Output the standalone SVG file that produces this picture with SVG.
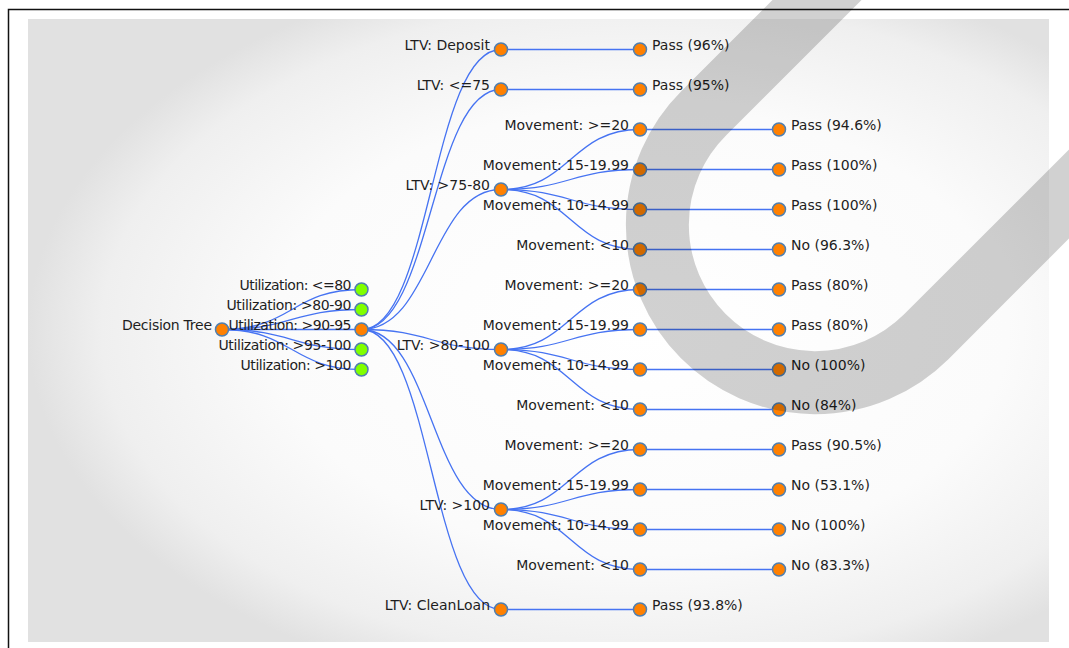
<svg xmlns="http://www.w3.org/2000/svg" width="1069" height="648" viewBox="0 0 1069 648">
<defs>
<radialGradient id="bg" cx="0.6" cy="0.5" r="0.6">
<stop offset="0" stop-color="#ffffff"/>
<stop offset="0.6" stop-color="#fbfbfb"/>
<stop offset="0.88" stop-color="#efefef"/>
<stop offset="1" stop-color="#e1e1e1"/>
</radialGradient>
</defs>
<style>
.link{fill:none;stroke:#4673f2;stroke-width:1.3}
.n{stroke:#4f7fb0;stroke-width:1.5}
.o{fill:#ff8000}
.g{fill:#80ff00}
text{font-family:"DejaVu Sans",Verdana,sans-serif;font-size:14px;fill:#1e1e1e}
.l{text-anchor:end}
.r{text-anchor:start}
</style>
<rect x="0" y="0" width="1069" height="648" fill="#ffffff"/>
<rect x="8.5" y="9.5" width="1080" height="660" fill="#ffffff" stroke="#111" stroke-width="1.5"/>
<rect x="28" y="19" width="1021" height="623" fill="url(#bg)"/>

<g id="links">
<path class="link" d="M222,329.5 C292,329.5 292,289.5 361.5,289.5"/>
<path class="link" d="M222,329.5 C292,329.5 292,309.5 361.5,309.5"/>
<path class="link" d="M222,329.5 C292,329.5 292,329.5 361.5,329.5"/>
<path class="link" d="M222,329.5 C292,329.5 292,349.5 361.5,349.5"/>
<path class="link" d="M222,329.5 C292,329.5 292,369.5 361.5,369.5"/>
<path class="link" d="M361.5,329.5 C431.25,329.5 431.25,49.5 501,49.5"/>
<path class="link" d="M361.5,329.5 C431.25,329.5 431.25,89.5 501,89.5"/>
<path class="link" d="M361.5,329.5 C431.25,329.5 431.25,189.5 501,189.5"/>
<path class="link" d="M361.5,329.5 C431.25,329.5 431.25,349.5 501,349.5"/>
<path class="link" d="M361.5,329.5 C431.25,329.5 431.25,509.5 501,509.5"/>
<path class="link" d="M361.5,329.5 C431.25,329.5 431.25,609.5 501,609.5"/>
<path class="link" d="M501,49.5 L640,49.5"/>
<path class="link" d="M501,89.5 L640,89.5"/>
<path class="link" d="M501,609.5 L640,609.5"/>
<path class="link" d="M501,189.5 C570.5,189.5 570.5,129.5 640,129.5"/>
<path class="link" d="M501,189.5 C570.5,189.5 570.5,169.5 640,169.5"/>
<path class="link" d="M501,189.5 C570.5,189.5 570.5,209.5 640,209.5"/>
<path class="link" d="M501,189.5 C570.5,189.5 570.5,249.5 640,249.5"/>
<path class="link" d="M501,349.5 C570.5,349.5 570.5,289.5 640,289.5"/>
<path class="link" d="M501,349.5 C570.5,349.5 570.5,329.5 640,329.5"/>
<path class="link" d="M501,349.5 C570.5,349.5 570.5,369.5 640,369.5"/>
<path class="link" d="M501,349.5 C570.5,349.5 570.5,409.5 640,409.5"/>
<path class="link" d="M501,509.5 C570.5,509.5 570.5,449.5 640,449.5"/>
<path class="link" d="M501,509.5 C570.5,509.5 570.5,489.5 640,489.5"/>
<path class="link" d="M501,509.5 C570.5,509.5 570.5,529.5 640,529.5"/>
<path class="link" d="M501,509.5 C570.5,509.5 570.5,569.5 640,569.5"/>
<path class="link" d="M640,129.5 L779,129.5"/>
<path class="link" d="M640,169.5 L779,169.5"/>
<path class="link" d="M640,209.5 L779,209.5"/>
<path class="link" d="M640,249.5 L779,249.5"/>
<path class="link" d="M640,289.5 L779,289.5"/>
<path class="link" d="M640,329.5 L779,329.5"/>
<path class="link" d="M640,369.5 L779,369.5"/>
<path class="link" d="M640,409.5 L779,409.5"/>
<path class="link" d="M640,449.5 L779,449.5"/>
<path class="link" d="M640,489.5 L779,489.5"/>
<path class="link" d="M640,529.5 L779,529.5"/>
<path class="link" d="M640,569.5 L779,569.5"/>
</g>

<g id="root"><text class="l" x="212" y="330" textLength="90">Decision Tree</text><circle class="n o" cx="222" cy="329.5" r="6.5"/></g>

<g id="util-le80"><text class="l" x="351.5" y="290" textLength="112">Utilization: &lt;=80</text><circle class="n g" cx="361.5" cy="289.5" r="6.5"/></g>
<g id="util-80-90"><text class="l" x="351.5" y="310" textLength="125">Utilization: &gt;80-90</text><circle class="n g" cx="361.5" cy="309.5" r="6.5"/></g>
<g id="util-90-95"><text class="l" x="351.5" y="330" textLength="123">Utilization: &gt;90-95</text><circle class="n o" cx="361.5" cy="329.5" r="6.5"/></g>
<g id="util-95-100"><text class="l" x="351.5" y="350" textLength="133">Utilization: &gt;95-100</text><circle class="n g" cx="361.5" cy="349.5" r="6.5"/></g>
<g id="util-gt100"><text class="l" x="351.5" y="370" textLength="111">Utilization: &gt;100</text><circle class="n g" cx="361.5" cy="369.5" r="6.5"/></g>

<g id="ltv-deposit"><text class="l" x="490" y="50">LTV: Deposit</text><circle class="n o" cx="501" cy="49.5" r="6.5"/></g>
<g id="ltv-le75"><text class="l" x="490" y="90">LTV: &lt;=75</text><circle class="n o" cx="501" cy="89.5" r="6.5"/></g>
<g id="ltv-75-80"><text class="l" x="490" y="190">LTV: &gt;75-80</text><circle class="n o" cx="501" cy="189.5" r="6.5"/></g>
<g id="ltv-80-100"><text class="l" x="490" y="350">LTV: &gt;80-100</text><circle class="n o" cx="501" cy="349.5" r="6.5"/></g>
<g id="ltv-gt100"><text class="l" x="490" y="510">LTV: &gt;100</text><circle class="n o" cx="501" cy="509.5" r="6.5"/></g>
<g id="ltv-cleanloan"><text class="l" x="490" y="610">LTV: CleanLoan</text><circle class="n o" cx="501" cy="609.5" r="6.5"/></g>

<g id="leaf-deposit"><circle class="n o" cx="640" cy="49.5" r="6.5"/><text class="r" x="652" y="50">Pass (96%)</text></g>
<g id="leaf-le75"><circle class="n o" cx="640" cy="89.5" r="6.5"/><text class="r" x="652" y="90">Pass (95%)</text></g>
<g id="leaf-cleanloan"><circle class="n o" cx="640" cy="609.5" r="6.5"/><text class="r" x="652" y="610">Pass (93.8%)</text></g>

<g id="mv-a1"><text class="l" x="629" y="130">Movement: &gt;=20</text><circle class="n o" cx="640" cy="129.5" r="6.5"/></g>
<g id="mv-a2"><text class="l" x="629" y="170">Movement: 15-19.99</text><circle class="n o" cx="640" cy="169.5" r="6.5"/></g>
<g id="mv-a3"><text class="l" x="629" y="210">Movement: 10-14.99</text><circle class="n o" cx="640" cy="209.5" r="6.5"/></g>
<g id="mv-a4"><text class="l" x="629" y="250">Movement: &lt;10</text><circle class="n o" cx="640" cy="249.5" r="6.5"/></g>
<g id="mv-b1"><text class="l" x="629" y="290">Movement: &gt;=20</text><circle class="n o" cx="640" cy="289.5" r="6.5"/></g>
<g id="mv-b2"><text class="l" x="629" y="330">Movement: 15-19.99</text><circle class="n o" cx="640" cy="329.5" r="6.5"/></g>
<g id="mv-b3"><text class="l" x="629" y="370">Movement: 10-14.99</text><circle class="n o" cx="640" cy="369.5" r="6.5"/></g>
<g id="mv-b4"><text class="l" x="629" y="410">Movement: &lt;10</text><circle class="n o" cx="640" cy="409.5" r="6.5"/></g>
<g id="mv-c1"><text class="l" x="629" y="450">Movement: &gt;=20</text><circle class="n o" cx="640" cy="449.5" r="6.5"/></g>
<g id="mv-c2"><text class="l" x="629" y="490">Movement: 15-19.99</text><circle class="n o" cx="640" cy="489.5" r="6.5"/></g>
<g id="mv-c3"><text class="l" x="629" y="530">Movement: 10-14.99</text><circle class="n o" cx="640" cy="529.5" r="6.5"/></g>
<g id="mv-c4"><text class="l" x="629" y="570">Movement: &lt;10</text><circle class="n o" cx="640" cy="569.5" r="6.5"/></g>

<g id="out-a1"><circle class="n o" cx="779" cy="129.5" r="6.5"/><text class="r" x="791" y="130">Pass (94.6%)</text></g>
<g id="out-a2"><circle class="n o" cx="779" cy="169.5" r="6.5"/><text class="r" x="791" y="170">Pass (100%)</text></g>
<g id="out-a3"><circle class="n o" cx="779" cy="209.5" r="6.5"/><text class="r" x="791" y="210">Pass (100%)</text></g>
<g id="out-a4"><circle class="n o" cx="779" cy="249.5" r="6.5"/><text class="r" x="791" y="250">No (96.3%)</text></g>
<g id="out-b1"><circle class="n o" cx="779" cy="289.5" r="6.5"/><text class="r" x="791" y="290">Pass (80%)</text></g>
<g id="out-b2"><circle class="n o" cx="779" cy="329.5" r="6.5"/><text class="r" x="791" y="330">Pass (80%)</text></g>
<g id="out-b3"><circle class="n o" cx="779" cy="369.5" r="6.5"/><text class="r" x="791" y="370">No (100%)</text></g>
<g id="out-b4"><circle class="n o" cx="779" cy="409.5" r="6.5"/><text class="r" x="791" y="410">No (84%)</text></g>
<g id="out-c1"><circle class="n o" cx="779" cy="449.5" r="6.5"/><text class="r" x="791" y="450">Pass (90.5%)</text></g>
<g id="out-c2"><circle class="n o" cx="779" cy="489.5" r="6.5"/><text class="r" x="791" y="490">No (53.1%)</text></g>
<g id="out-c3"><circle class="n o" cx="779" cy="529.5" r="6.5"/><text class="r" x="791" y="530">No (100%)</text></g>
<g id="out-c4"><circle class="n o" cx="779" cy="569.5" r="6.5"/><text class="r" x="791" y="570">No (83.3%)</text></g>

<path d="M1004,-187 L704,113 A157,157 0 0 0 926,337 L1226,37" fill="none" stroke="#000" stroke-opacity="0.18" stroke-width="63"/>
</svg>
